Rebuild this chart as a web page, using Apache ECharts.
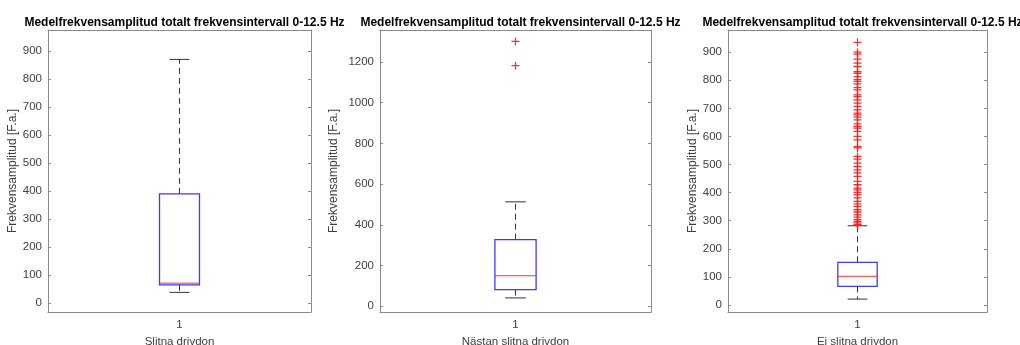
<!DOCTYPE html>
<html>
<head>
<meta charset="utf-8">
<script src="https://cdn.jsdelivr.net/npm/echarts@6/dist/echarts.min.js"></script>
<style>
html,body{margin:0;padding:0;background:#fff;}
#chart{width:1020px;height:345px;}
</style>
</head>
<body>
<div id="chart"></div>
<script>
// ---- data ----
const categories = ['1'];
const chartTitle = 'Medelfrekvensamplitud totalt frekvensintervall 0-12.5 Hz';
const yAxisName = 'Frekvensamplitud [F.a.]';
const xAxisNames = ['Slitna drivdon', 'Nästan slitna drivdon', 'Ej slitna drivdon'];
// box stats: [lower whisker, Q1, median, Q3, upper whisker]
const boxSlitna = [38, 65, 71, 390, 870];
const boxNastan = [41, 82, 150, 327, 513];
const boxEj = [21, 66, 102, 152, 282];
const outliersSlitna = [];
const outliersNastan = [1182, 1301];
const outliersEj = [935, 900, 893, 875, 861, 849, 831, 825, 813, 802, 796, 787, 774, 766, 748, 742,
  730, 719, 707, 695, 683, 677, 669, 659, 645, 636, 630, 618, 600, 588, 564, 559, 529, 519, 505,
  493, 481, 470, 458, 440, 428, 416, 410, 401, 393, 381, 369, 360, 351, 339, 331, 321, 313, 304,
  298, 292, 286, 284];
const yMins = [-32, -28, -25];
const yMaxs = [975, 1357, 979];
const yTickSteps = [100, 200, 100];

// ---- layout ----
const grids = [
  {left: 48, top: 30, width: 263, height: 282},
  {left: 380, top: 30, width: 271, height: 282},
  {left: 728, top: 30, width: 259, height: 282}
];
const nameGaps = [29, 40, 29];
const boxes = [boxSlitna, boxNastan, boxEj];
const outliers = [outliersSlitna, outliersNastan, outliersEj];

const FONT = 'Liberation Sans, Arial, sans-serif';
const FRAME = '#8a8a8a';
const TXT = '#404040';

const option = {
  animation: false,
  backgroundColor: '#fff',
  title: [], grid: [], xAxis: [], yAxis: [], series: []
};

grids.forEach((g, i) => {
  option.grid.push({left: g.left, top: g.top, width: g.width, height: g.height,
    containLabel: false, outerBoundsMode: 'none'});
  option.title.push({
    text: chartTitle, left: g.left + g.width / 2, top: 12, textAlign: 'center',
    textStyle: {fontFamily: FONT, fontSize: 12, fontWeight: 'bold', color: '#000'}
  });
  // bottom x axis
  option.xAxis.push({
    type: 'category', gridIndex: i, data: categories, position: 'bottom',
    name: xAxisNames[i], nameLocation: 'middle', nameGap: 21,
    nameTextStyle: {fontFamily: FONT, fontSize: 11.5, color: TXT},
    axisLine: {onZero: false, lineStyle: {color: FRAME, width: 1}},
    axisTick: {inside: true, alignWithLabel: true, length: 3, lineStyle: {color: FRAME}},
    axisLabel: {fontFamily: FONT, fontSize: 11.5, color: TXT, margin: 7},
    splitLine: {show: false}
  });
  // top x axis (frame)
  option.xAxis.push({
    type: 'category', gridIndex: i, data: categories, position: 'top',
    axisLine: {onZero: false, lineStyle: {color: FRAME, width: 1}},
    axisTick: {inside: true, alignWithLabel: true, length: 3, lineStyle: {color: FRAME}},
    axisLabel: {show: false}, splitLine: {show: false}
  });
  const step = yTickSteps[i];
  const span = yMaxs[i] - yMins[i];
  const yCommon = {
    type: 'value', gridIndex: i, min: yMins[i], max: yMaxs[i],
    splitNumber: Math.round(span / step), minInterval: step, maxInterval: step,
    axisLine: {show: true, onZero: false, lineStyle: {color: FRAME, width: 1}},
    axisTick: {show: true, inside: true, length: 3, lineStyle: {color: FRAME}},
    splitLine: {show: false}
  };
  option.yAxis.push(Object.assign({}, yCommon, {
    position: 'left',
    name: yAxisName, nameLocation: 'middle', nameGap: nameGaps[i], nameRotate: 90,
    nameTextStyle: {fontFamily: FONT, fontSize: 12, color: TXT},
    axisLabel: {
      fontFamily: FONT, fontSize: 11.5, color: TXT, margin: 6,
      showMinLabel: false, showMaxLabel: false,
      formatter: v => (Math.abs(v % step) < 1e-6 ? String(v) : '')
    }
  }));
  option.yAxis.push(Object.assign({}, yCommon, {
    position: 'right', axisLabel: {show: false}
  }));

  option.series.push({
    type: 'custom', xAxisIndex: 2 * i, yAxisIndex: 2 * i,
    data: [[0].concat(boxes[i])],
    encode: {x: 0, y: [1, 2, 3, 4, 5]},
    renderItem: function (params, api) {
      const x = api.value(0);
      const pMin = api.coord([x, api.value(1)]);
      const pQ1 = api.coord([x, api.value(2)]);
      const pMed = api.coord([x, api.value(3)]);
      const pQ3 = api.coord([x, api.value(4)]);
      const pMax = api.coord([x, api.value(5)]);
      const band = api.size([1, 0])[0];
      const bw = band * 0.152;
      const cw = band * 0.076;
      const cx = pMed[0];
      const dash = {stroke: '#333', lineWidth: 1, lineDash: [6, 4]};
      const solid = {stroke: '#333', lineWidth: 1};
      return {
        type: 'group',
        children: [
          {type: 'line', shape: {x1: cx, y1: pQ3[1], x2: cx, y2: pMax[1]}, style: dash},
          {type: 'line', shape: {x1: cx, y1: pQ1[1], x2: cx, y2: pMin[1]}, style: dash},
          {type: 'line', shape: {x1: cx - cw / 2, y1: pMax[1], x2: cx + cw / 2, y2: pMax[1]}, style: solid},
          {type: 'line', shape: {x1: cx - cw / 2, y1: pMin[1], x2: cx + cw / 2, y2: pMin[1]}, style: solid},
          {type: 'rect', shape: {x: cx - bw / 2, y: pQ3[1], width: bw, height: pQ1[1] - pQ3[1]},
            style: {fill: 'none', stroke: '#3a3aff', lineWidth: 1.3}},
          {type: 'line', shape: {x1: cx - bw / 2, y1: pMed[1], x2: cx + bw / 2, y2: pMed[1]},
            style: {stroke: '#ff3030', lineWidth: 1}}
        ]
      };
    },
    z: 3
  });
  if (outliers[i].length) {
    option.series.push({
      type: 'scatter', xAxisIndex: 2 * i, yAxisIndex: 2 * i,
      data: outliers[i].map(v => [0, v]),
      symbol: 'path://M0,4.2H10V5.8H0Z M4.2,0H5.8V10H4.2Z',
      symbolSize: 8,
      itemStyle: {color: '#ff1a1a', opacity: 0.9},
      z: 4
    });
  }
});

const chart = echarts.init(document.getElementById('chart'), null, {renderer: 'canvas'});
chart.setOption(option);
</script>
</body>
</html>
